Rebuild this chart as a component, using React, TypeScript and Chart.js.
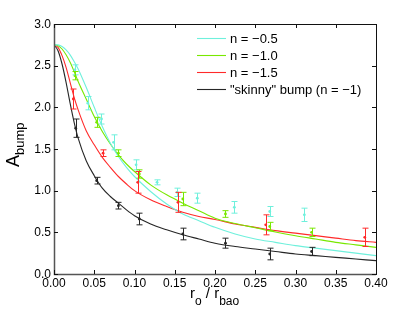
import { useEffect, useRef } from 'react';
import { Chart, registerables } from 'chart.js';

Chart.register(...registerables);

// ---------- data ----------
const curveX = [0, 0.005, 0.01, 0.015, 0.02, 0.025, 0.03, 0.04, 0.05, 0.06, 0.07, 0.08, 0.09, 0.1, 0.12, 0.14, 0.16, 0.18, 0.2, 0.225, 0.25, 0.275, 0.3, 0.325, 0.35, 0.375, 0.4];
const curveN05 = [2.75, 2.75, 2.73, 2.69, 2.63, 2.55, 2.46, 2.24, 2.0, 1.77, 1.57, 1.41, 1.28, 1.17, 0.99, 0.84, 0.72, 0.64, 0.56, 0.48, 0.42, 0.38, 0.34, 0.31, 0.28, 0.25, 0.22];
const curveN10 = [2.75, 2.74, 2.7, 2.63, 2.54, 2.43, 2.31, 2.1, 1.89, 1.71, 1.56, 1.43, 1.32, 1.23, 1.07, 0.95, 0.85, 0.76, 0.67, 0.605, 0.555, 0.505, 0.46, 0.42, 0.38, 0.35, 0.32];
const curveN15 = [2.75, 2.72, 2.62, 2.48, 2.3, 2.12, 1.97, 1.72, 1.55, 1.4, 1.28, 1.17, 1.08, 1.0, 0.89, 0.81, 0.74, 0.69, 0.655, 0.6, 0.56, 0.52, 0.49, 0.46, 0.43, 0.4, 0.38];
const curveSkinny = [2.75, 2.68, 2.52, 2.3, 2.05, 1.82, 1.63, 1.36, 1.18, 1.03, 0.93, 0.85, 0.77, 0.7, 0.6, 0.53, 0.47, 0.42, 0.37, 0.33, 0.3, 0.27, 0.24, 0.22, 0.2, 0.18, 0.16];

const ptsN05X = [0.026, 0.042, 0.059, 0.074, 0.102, 0.128, 0.153, 0.178, 0.224, 0.268, 0.311];
const ptsN05Y = [2.45, 2.05, 1.86, 1.58, 1.31, 1.1, 0.98, 0.91, 0.8, 0.75, 0.71];
const ptsN05Err = [0.06, 0.08, 0.06, 0.09, 0.06, 0.03, 0.05, 0.06, 0.07, 0.06, 0.08];

const ptsN10X = [0.026, 0.053, 0.08, 0.106, 0.16, 0.213, 0.268, 0.32];
const ptsN10Y = [2.38, 1.82, 1.45, 1.2, 0.9, 0.72, 0.57, 0.5];
const ptsN10Err = [0.05, 0.06, 0.04, 0.05, 0.08, 0.04, 0.05, 0.05];

const ptsN15X = [0.024, 0.061, 0.104, 0.154, 0.263, 0.386];
const ptsN15Y = [2.1, 1.45, 1.1, 0.86, 0.59, 0.44];
const ptsN15Err = [0.12, 0.04, 0.13, 0.12, 0.12, 0.11];

const ptsSkX = [0.027, 0.053, 0.08, 0.106, 0.16, 0.213, 0.268, 0.32];
const ptsSkY = [1.75, 1.12, 0.82, 0.66, 0.48, 0.37, 0.24, 0.27];
const ptsSkErr = [0.11, 0.04, 0.04, 0.07, 0.07, 0.06, 0.07, 0.05];

const xTickValues = [0, 0.05, 0.1, 0.15, 0.2, 0.25, 0.3, 0.35, 0.4];
const xTickLabels = ['0.00', '0.05', '0.10', '0.15', '0.20', '0.25', '0.30', '0.35', '0.40'];
const yTickValues = [0, 0.5, 1, 1.5, 2, 2.5, 3];
const yTickLabels = ['0.0', '0.5', '1.0', '1.5', '2.0', '2.5', '3.0'];

const seriesLabels = ['n = \u22120.5', 'n = \u22121.0', 'n = \u22121.5', '"skinny" bump (n = \u22121)'];
const seriesColors = ['#6ff0dc', '#78e800', '#ff2a2a', '#262626'];

const FONT = '"Liberation Sans", Arial, Helvetica, sans-serif';

export default function App() {
  const ref = useRef<HTMLCanvasElement | null>(null);

  useEffect(() => {
    const canvas = ref.current;
    if (!canvas) return;

    const curves = [curveN05, curveN10, curveN15, curveSkinny];
    const ptsX = [ptsN05X, ptsN10X, ptsN15X, ptsSkX];
    const ptsY = [ptsN05Y, ptsN10Y, ptsN15Y, ptsSkY];
    const ptsE = [ptsN05Err, ptsN10Err, ptsN15Err, ptsSkErr];

    const datasets: any[] = [];
    curves.forEach((c, i) => {
      datasets.push({
        label: seriesLabels[i],
        data: curveX.map((x, k) => ({ x, y: c[k] })),
        showLine: true,
        borderColor: seriesColors[i],
        borderWidth: 1.1,
        pointRadius: 0,
        cubicInterpolationMode: 'monotone',
        order: 2,
      });
    });
    ptsX.forEach((xs, i) => {
      datasets.push({
        label: seriesLabels[i] + ' data',
        data: xs.map((x, k) => ({ x, y: ptsY[i][k] })),
        errs: ptsE[i],
        showLine: false,
        pointRadius: 1.4,
        pointBackgroundColor: seriesColors[i],
        pointBorderWidth: 0,
        borderColor: seriesColors[i],
        order: 1,
      });
    });

    const decor = {
      id: 'decor',
      afterDatasetsDraw(chart: any) {
        const ctx = chart.ctx;
        const xs = chart.scales.x;
        const ys = chart.scales.y;
        const a = chart.chartArea;
        ctx.save();
        // error bars
        chart.data.datasets.forEach((ds: any) => {
          if (!ds.errs) return;
          ctx.strokeStyle = ds.borderColor;
          ctx.lineWidth = 1;
          ds.data.forEach((p: any, k: number) => {
            const px = Math.round(xs.getPixelForValue(p.x)) + 0.5;
            const y1 = ys.getPixelForValue(p.y - ds.errs[k]);
            const y2 = ys.getPixelForValue(p.y + ds.errs[k]);
            ctx.beginPath();
            ctx.moveTo(px, y1);
            ctx.lineTo(px, y2);
            ctx.moveTo(px - 3, y1);
            ctx.lineTo(px + 3, y1);
            ctx.moveTo(px - 3, y2);
            ctx.lineTo(px + 3, y2);
            ctx.stroke();
          });
        });
        ctx.restore();
      },
      afterDraw(chart: any) {
        const ctx = chart.ctx;
        const xs = chart.scales.x;
        const ys = chart.scales.y;
        const a = chart.chartArea;
        ctx.save();
        // frame
        ctx.strokeStyle = '#111';
        ctx.lineWidth = 1;
        ctx.strokeRect(Math.round(a.left) + 0.5, Math.round(a.top) + 0.5, Math.round(a.right - a.left), Math.round(a.bottom - a.top));
        ctx.strokeStyle = '#555';
        ctx.lineWidth = 1.5;
        ctx.beginPath();
        ctx.moveTo(a.left + 0.5, a.top);
        ctx.lineTo(a.left + 0.5, a.bottom + 0.5);
        ctx.lineTo(a.right, a.bottom + 0.5);
        ctx.stroke();
        // inward ticks
        ctx.strokeStyle = '#111';
        ctx.lineWidth = 1;
        const tl = 4;
        ctx.beginPath();
        xTickValues.forEach((v) => {
          const px = Math.round(xs.getPixelForValue(v)) + 0.5;
          ctx.moveTo(px, a.bottom);
          ctx.lineTo(px, a.bottom - tl);
          ctx.moveTo(px, a.top);
          ctx.lineTo(px, a.top + tl);
        });
        yTickValues.forEach((v) => {
          const py = Math.round(ys.getPixelForValue(v)) + 0.5;
          ctx.moveTo(a.left, py);
          ctx.lineTo(a.left + tl, py);
          ctx.moveTo(a.right, py);
          ctx.lineTo(a.right - tl, py);
        });
        ctx.stroke();
        // tick labels
        ctx.fillStyle = '#000';
        ctx.font = '12px ' + FONT;
        ctx.textAlign = 'center';
        ctx.textBaseline = 'top';
        xTickValues.forEach((v, i) => {
          ctx.fillText(xTickLabels[i], xs.getPixelForValue(v), a.bottom + 4);
        });
        ctx.textAlign = 'right';
        ctx.textBaseline = 'middle';
        yTickValues.forEach((v, i) => {
          ctx.fillText(yTickLabels[i], a.left - 3, ys.getPixelForValue(v) + 0.5);
        });
        // x title: r_o / r_bao
        ctx.textAlign = 'left';
        ctx.textBaseline = 'alphabetic';
        let x = 190;
        const yb = 298;
        const parts: [string, number, number][] = [['r', 15, 0], ['o', 12, 7], [' / ', 15, 0], ['r', 15, 0], ['bao', 12, 7]];
        parts.forEach(([t, s, dy]) => {
          ctx.font = s + 'px ' + FONT;
          ctx.fillText(t, x, yb + dy);
          x += ctx.measureText(t).width;
        });
        // y title: A_bump
        ctx.translate(19, 167);
        ctx.rotate(-Math.PI / 2);
        ctx.font = '18px ' + FONT;
        ctx.fillText('A', 0, 0);
        const wA = ctx.measureText('A').width;
        ctx.font = '13px ' + FONT;
        ctx.fillText('bump', wA, 5);
        ctx.setTransform(1, 0, 0, 1, 0, 0);
        // legend
        const ly = [38, 55, 72, 89];
        ctx.font = '13px ' + FONT;
        ctx.textBaseline = 'middle';
        seriesLabels.forEach((lab, i) => {
          ctx.strokeStyle = seriesColors[i];
          ctx.lineWidth = 1.1;
          ctx.beginPath();
          ctx.moveTo(197, ly[i] + 0.5);
          ctx.lineTo(226, ly[i] + 0.5);
          ctx.stroke();
          ctx.fillStyle = '#000';
          ctx.fillText(lab, 230, ly[i] + 1);
        });
        ctx.restore();
      },
    };

    const chart = new Chart(canvas, {
      type: 'scatter',
      data: { datasets },
      options: {
        animation: false,
        responsive: false,
        devicePixelRatio: 1,
        layout: { padding: { left: 54, top: 24, right: 39, bottom: 39 } },
        scales: {
          x: { type: 'linear', min: 0, max: 0.4, display: false },
          y: { type: 'linear', min: 0, max: 3, display: false },
        },
        plugins: { legend: { display: false }, tooltip: { enabled: false } },
      },
      plugins: [decor],
    } as any);

    return () => chart.destroy();
  }, []);

  return (
    <div style={{ position: 'absolute', left: 0, top: 0, width: 415, height: 313, background: '#fff' }}>
      <canvas ref={ref} width={415} height={313} style={{ width: 415, height: 313 }} />
    </div>
  );
}
